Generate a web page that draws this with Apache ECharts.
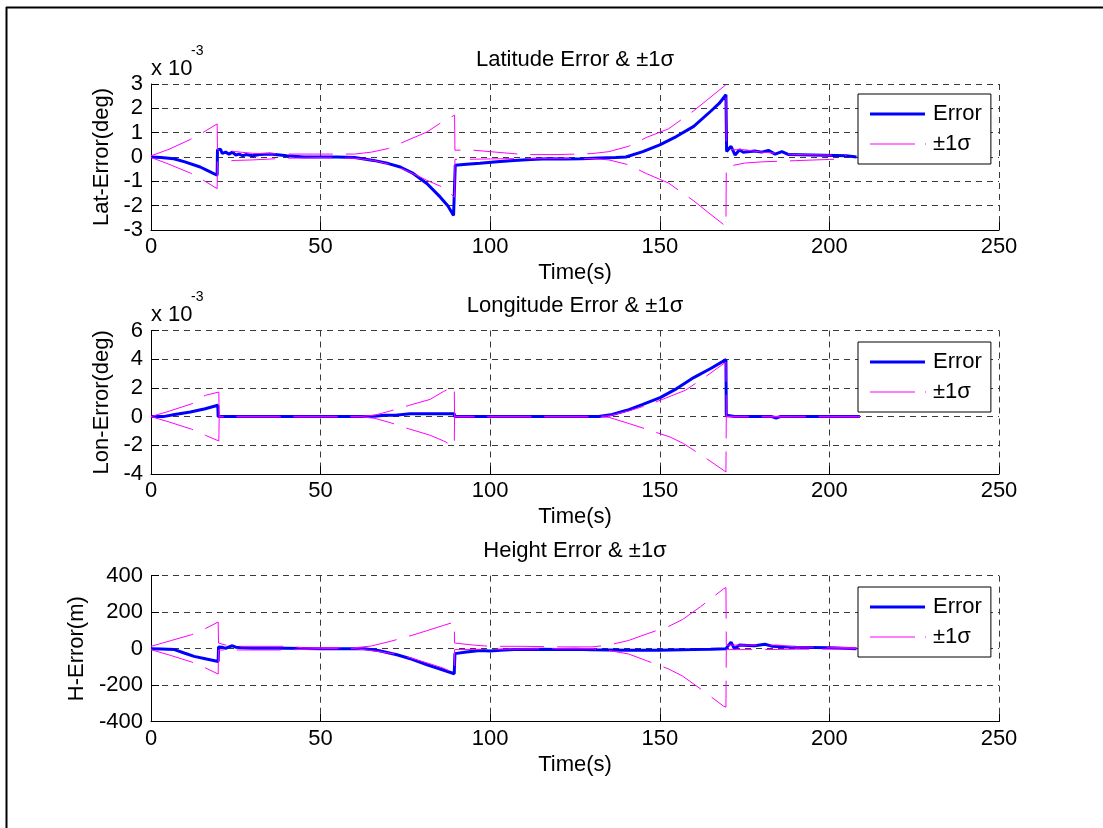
<!DOCTYPE html>
<html>
<head>
<meta charset="utf-8">
<script src="https://cdn.jsdelivr.net/npm/echarts@6/dist/echarts.min.js"></script>
<style>
html,body{margin:0;padding:0;background:#fff;}
#c{width:1103px;height:828px;}
</style>
</head>
<body>
<div id="c"></div>
<script>
// ---- Data (latitude / longitude in units of 1e-3 deg, height in m) ----
const latErr = [[0,0],[3,-0.02],[6.7,-0.07],[10,-0.2],[14.5,-0.41],[17,-0.58],[19.5,-0.75],[19.6,0.3],[20.5,0.32],[21,0.15],[22,0.2],[23,0.12],[24,0.2],[25,0.08],[26,0.12],[27,0.05],[28,0.1],[30,0.05],[32,0.1],[35,0.12],[38,0.08],[40,0.05],[45,0],[50,0],[55,0],[60,-0.02],[65.6,-0.14],[70,-0.27],[73.5,-0.41],[77,-0.65],[81.4,-1.1],[85.3,-1.65],[87.5,-2.0],[89.2,-2.4],[89.5,-2.45],[89.7,-0.34],[93,-0.3],[97,-0.26],[102,-0.2],[107,-0.14],[112,-0.1],[117,-0.07],[122,-0.08],[127,-0.07],[132,-0.04],[137,-0.02],[140,0.0],[145,0.22],[150,0.5],[155,0.85],[160,1.26],[165,1.88],[167.5,2.2],[169.5,2.56],[169.7,0.23],[171,0.44],[172.2,0.08],[173.5,0.3],[174.5,0.2],[178,0.25],[180,0.2],[182,0.27],[184,0.12],[186,0.22],[188,0.1],[195,0.08],[205,0.05],[208,0]];
const latSigUp = [[0,0.05],[5,0.3],[11.6,0.72],[15,0.98],[19.5,1.36],[19.6,0.3],[25,0.22],[30,0.15],[40,0.12],[50,0.12],[60,0.12],[65,0.2],[70,0.35],[75,0.65],[81.4,1.03],[85.8,1.44],[89.5,1.72],[89.6,0.28],[95,0.28],[100,0.22],[110,0.1],[120,0.1],[130,0.14],[135,0.22],[140.8,0.44],[146,0.8],[152.6,1.16],[156,1.5],[160,1.9],[164,2.35],[169.5,2.97],[169.6,0.3],[175,0.3],[180,0.2],[190,0.1],[200,0.08],[205,0.06]];
const latSigLo = [[0,-0.02],[5,-0.28],[11.6,-0.66],[15,-0.92],[19.5,-1.3],[19.6,-0.2],[25,-0.14],[30,-0.12],[40,-0.05],[50,-0.03],[60,-0.05],[65.6,-0.14],[71.5,-0.34],[76,-0.6],[81.4,-0.96],[85.8,-1.23],[89.5,-1.65],[89.6,-0.1],[100,-0.08],[110,-0.06],[120,-0.05],[130,-0.06],[135,-0.12],[140.8,-0.32],[146,-0.68],[152.6,-1.07],[156,-1.41],[160,-1.8],[164,-2.25],[169.5,-2.85],[169.6,-0.4],[175,-0.25],[180,-0.2],[190,-0.15],[200,-0.1],[205,-0.08]];

const lonErr = [[0,0],[3.6,0],[7,0.15],[11.6,0.32],[16,0.55],[19.7,0.79],[19.8,0],[40,0],[65,0],[69,0.09],[72,0.1],[76.4,0.2],[89.4,0.2],[89.5,0],[110,0],[132,0],[136,0.15],[140.3,0.44],[145,0.85],[150.1,1.32],[155,1.95],[160,2.72],[165,3.35],[169.5,3.97],[169.6,0.1],[172,0],[183,0],[184.3,-0.1],[185.5,0],[209,0]];
const lonSigUp = [[0,0],[5,0.35],[12.1,0.9],[16,1.48],[20,1.71],[20.1,0.02],[40,0.02],[62,0.02],[66,0.1],[70.5,0.39],[76,0.78],[82.3,1.2],[86.3,1.76],[89.4,2.07],[89.5,0.02],[110,0.02],[132,0.02],[135,0.05],[141,0.4],[147,0.85],[153,1.41],[157.5,1.83],[163,2.7],[169.5,3.8],[169.6,0.02],[190,0.02],[209,0.02]];
const lonSigLo = [[0,0],[5,-0.35],[12,-0.88],[16,-1.3],[20,-1.7],[20.1,-0.02],[40,-0.02],[62,-0.02],[66,-0.12],[70.5,-0.42],[76,-0.85],[82.3,-1.3],[86.3,-1.7],[89.4,-2.07],[89.5,-0.02],[110,-0.02],[132,-0.02],[135,-0.05],[141,-0.49],[147,-0.95],[153,-1.42],[157,-1.88],[163,-2.8],[169.5,-3.86],[169.6,-0.02],[190,-0.02],[209,-0.02]];

const hErr = [[0,0],[3,-2],[6.9,-5],[10,-25],[12.7,-42],[16,-55],[19.8,-70],[19.9,9],[21,8],[22,2],[23,10],[24,16],[25,8],[27,5],[30,3],[40,2],[50,0],[60,0],[63,0],[67,-10],[72.5,-33],[77,-58],[81.4,-88],[85,-110],[89.4,-137],[89.6,-27],[93,-18],[97,-10],[100,-12],[103,-8],[107,-5],[115,-3],[120,-5],[125,-3],[130,-6],[140,-8],[150,-8],[160,-5],[165,-3],[169.5,0],[171,36],[172,0],[173.5,20],[176,18],[178,16],[181,24],[183,14],[186,10],[190,8],[200,5],[208,0]];
const hSigUp = [[0,13],[6,45],[12,77],[16,110],[19.8,146],[19.9,31],[22,20],[25,13],[40,13],[45,5],[60,5],[65,15],[70.5,40],[76,68],[81.4,99],[86.3,128],[89.4,146],[89.5,31],[95,20],[100,13],[110,13],[120,10],[130,10],[135,20],[140.8,45],[146,80],[152.6,122],[156.7,160],[162,230],[168.8,328],[169.5,335],[169.6,20],[175,20],[185,20],[190,10],[200,8],[208,5]];
const hSigLo = [[0,-5],[6,-38],[12,-73],[16,-105],[19.8,-139],[19.9,-7],[30,-7],[40,-7],[50,0],[60,0],[65,-10],[73.5,-33],[81.4,-78],[86,-105],[89.4,-133],[89.5,-5],[100,-3],[120,0],[130,0],[135,-10],[140.8,-29],[146,-65],[152.6,-111],[156.7,-150],[162,-220],[168.8,-315],[169.5,-320],[169.6,-5],[180,-5],[190,-3],[200,-2],[208,0]];

const titles = ['Latitude Error & \u00b11\u03c3', 'Longitude Error & \u00b11\u03c3', 'Height Error & \u00b11\u03c3'];
const yNames = ['Lat-Error(deg)', 'Lon-Error(deg)', 'H-Error(m)'];
const yMin = [-3, -4, -400];
const yMax = [3, 6, 400];
const yStep = [1, 2, 200];
const xMin = 0, xMax = 250, xStep = 50;
const legendNames = ['Error', '\u00b11\u03c3'];

// ---- Layout ----
const FONT = 'Liberation Sans, Arial, sans-serif';
const FS = 22;
const grids = [
  {left:151, top:84, width:848, height:146},
  {left:151, top:330.5, width:848, height:143.5},
  {left:151, top:575.7, width:848, height:146}
];
const yNameGap = [32, 32, 37];
const gridDash = {color:'#3a3a3a', width:1, type:[6,5]};
const errData = [latErr, lonErr, hErr];
const upData = [latSigUp, lonSigUp, hSigUp];
const loData = [latSigLo, lonSigLo, hSigLo];

const iconError = 'path://M0,0h0.01v0.01h-0.01z M0,5.5h55v3h-55z M57.99,13.99h0.01v0.01h-0.01z';
const iconSigma = 'path://M0,0h0.01v0.01h-0.01z M0,6.5h45v1h-45z M55,6.5h1v1h-1z M57.99,13.99h0.01v0.01h-0.01z';

const xAxes = [], yAxes = [], series = [], legends = [], graphics = [];
for (let i = 0; i < 3; i++) {
  xAxes.push({
    gridIndex:i, type:'value', min:xMin, max:xMax, interval:xStep,
    name:'Time(s)', nameLocation:'middle', nameGap:32,
    nameTextStyle:{fontFamily:FONT, fontSize:FS, color:'#000', verticalAlign:'top'},
    axisLine:{show:true, onZero:false, lineStyle:{color:'#000', width:1}},
    axisTick:{show:true, inside:true, length:8, lineStyle:{color:'#000'}},
    axisLabel:{margin:6, fontFamily:FONT, fontSize:FS, color:'#000'},
    splitLine:{show:true, lineStyle:gridDash}
  });
  yAxes.push({
    gridIndex:i, type:'value', min:yMin[i], max:yMax[i], interval:yStep[i],
    name:yNames[i], nameLocation:'middle', nameGap:yNameGap[i], nameRotate:90,
    nameTextStyle:{fontFamily:FONT, fontSize:FS, color:'#000'},
    axisLine:{show:true, onZero:false, lineStyle:{color:'#000', width:1}},
    axisTick:{show:true, inside:true, length:8, lineStyle:{color:'#000'}},
    axisLabel:{margin:8, fontFamily:FONT, fontSize:FS, color:'#000'},
    splitLine:{show:true, lineStyle:gridDash}
  });
  series.push({
    name:legendNames[0], type:'line', xAxisIndex:i, yAxisIndex:i,
    data:errData[i], symbol:'none', showSymbol:false,
    lineStyle:{color:'#0000ff', width:3}, itemStyle:{color:'#0000ff'}, z:2
  });
  series.push({
    name:legendNames[1], type:'line', xAxisIndex:i, yAxisIndex:i,
    data:upData[i], symbol:'none', showSymbol:false,
    lineStyle:{color:'#ff00ff', width:1, type:[44,13]}, itemStyle:{color:'#ff00ff'}, z:3
  });
  series.push({
    name:legendNames[1], type:'line', xAxisIndex:i, yAxisIndex:i,
    data:loData[i], symbol:'none', showSymbol:false,
    lineStyle:{color:'#ff00ff', width:1, type:[44,13]}, itemStyle:{color:'#ff00ff'}, z:3
  });
  const legTop = [94, 342, 587][i];
  legends.push({
    data:[{name:legendNames[0], icon:iconError}, {name:legendNames[1], icon:iconSigma}],
    orient:'vertical', left:858, top:legTop,
    padding:[9,9,9,12], itemGap:8, itemWidth:58, itemHeight:14, symbolKeepAspect:false,
    backgroundColor:'#fff', borderColor:'#000', borderWidth:1,
    textStyle:{fontFamily:FONT, fontSize:FS, color:'#000'},
    selectedMode:false, z:10
  });
  const tTop = [48.5, 295, 540][i];
  graphics.push({type:'text', style:{text:titles[i], x:575, y:tTop, textAlign:'center', textVerticalAlign:'top', fontFamily:FONT, fontSize:FS, fill:'#000'}});
}
// exponent labels
[[57.5,44],[304,290.5]].forEach(p => {
  graphics.push({type:'text', style:{text:'x 10', x:151, y:p[0], textVerticalAlign:'top', fontFamily:FONT, fontSize:FS, fill:'#000'}});
  graphics.push({type:'text', style:{text:'-3', x:191, y:p[1], textVerticalAlign:'top', fontFamily:FONT, fontSize:14, fill:'#000'}});
});
// frame (top & left)
graphics.push({type:'line', shape:{x1:6, y1:7.5, x2:1103, y2:7.5}, style:{stroke:'#000', lineWidth:2}});
graphics.push({type:'line', shape:{x1:6.5, y1:7, x2:6.5, y2:828}, style:{stroke:'#000', lineWidth:2}});

const chart = echarts.init(document.getElementById('c'), null, {renderer:'canvas'});
chart.setOption({
  animation:false,
  backgroundColor:'#fff',
  grid:grids,
  xAxis:xAxes,
  yAxis:yAxes,
  legend:legends,
  series:series,
  graphic:graphics
});
</script>
</body>
</html>
